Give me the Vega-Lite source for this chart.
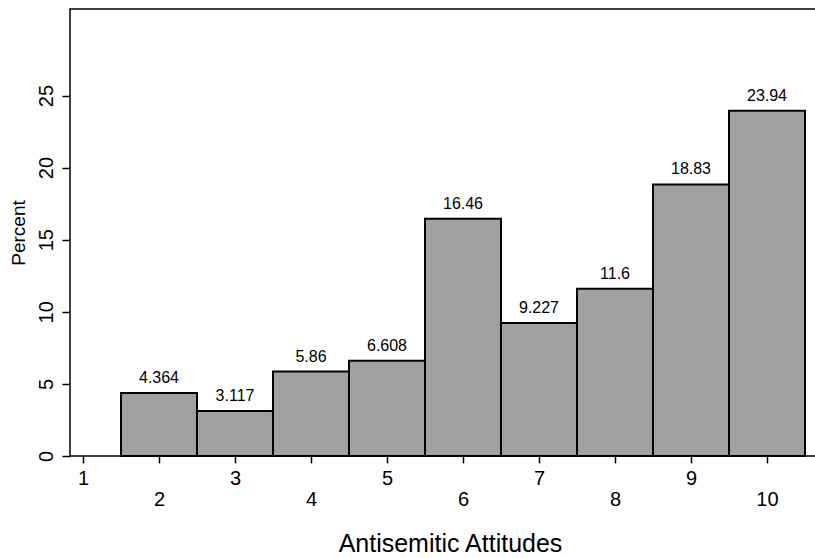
{
  "$schema": "https://vega.github.io/schema/vega-lite/v6.json",
  "autosize": {"type": "none"},
  "padding": {"left": 70, "top": 9, "right": 0, "bottom": 102},
  "width": 760,
  "height": 447,
  "background": "white",
  "config": {
    "font": "Liberation Sans",
    "view": {"stroke": "black", "strokeWidth": 1.5},
    "axis": {"domain": false, "grid": false, "tickColor": "black", "tickWidth": 1.5, "labelColor": "black", "titleColor": "black", "titleFontWeight": "normal"}
  },
  "data": {
    "values": [
      {"value": 2, "bin_start": 1.5, "bin_end": 2.5, "percent": 4.364, "label": "4.364"},
      {"value": 3, "bin_start": 2.5, "bin_end": 3.5, "percent": 3.117, "label": "3.117"},
      {"value": 4, "bin_start": 3.5, "bin_end": 4.5, "percent": 5.86, "label": "5.86"},
      {"value": 5, "bin_start": 4.5, "bin_end": 5.5, "percent": 6.608, "label": "6.608"},
      {"value": 6, "bin_start": 5.5, "bin_end": 6.5, "percent": 16.46, "label": "16.46"},
      {"value": 7, "bin_start": 6.5, "bin_end": 7.5, "percent": 9.227, "label": "9.227"},
      {"value": 8, "bin_start": 7.5, "bin_end": 8.5, "percent": 11.6, "label": "11.6"},
      {"value": 9, "bin_start": 8.5, "bin_end": 9.5, "percent": 18.83, "label": "18.83"},
      {"value": 10, "bin_start": 9.5, "bin_end": 10.5, "percent": 23.94, "label": "23.94"}
    ]
  },
  "layer": [
    {
      "mark": {"type": "rect", "fill": "#a1a1a1", "stroke": "black", "strokeWidth": 2},
      "encoding": {
        "x": {
          "field": "bin_start", "type": "quantitative",
          "scale": {"domain": [0.829, 10.829], "nice": false, "zero": false},
          "axis": {
            "values": [1, 2, 3, 4, 5, 6, 7, 8, 9, 10],
            "format": "d",
            "tickSize": 7,
            "labelFontSize": 20,
            "labelFlush": false,
            "labelOverlap": false,
            "labelPadding": {"condition": {"test": "datum.value % 2 === 0", "value": 26}, "value": 5},
            "title": "Antisemitic Attitudes",
            "titleFontSize": 25,
            "titlePadding": 22
          }
        },
        "x2": {"field": "bin_end"},
        "y": {
          "field": "percent", "type": "quantitative",
          "scale": {"domain": [0, 31], "nice": false},
          "axis": {
            "values": [0, 5, 10, 15, 20, 25],
            "format": "d",
            "tickSize": 8,
            "labelAngle": 270,
            "labelFontSize": 20,
            "labelPadding": 6,
            "title": "Percent",
            "titleFontSize": 19,
            "titlePadding": 8
          }
        },
        "y2": {"datum": 0}
      }
    },
    {
      "mark": {"type": "text", "baseline": "alphabetic", "dy": -10, "fontSize": 16, "color": "black"},
      "encoding": {
        "x": {"field": "value", "type": "quantitative"},
        "y": {"field": "percent", "type": "quantitative"},
        "text": {"field": "label", "type": "nominal"}
      }
    }
  ]
}
